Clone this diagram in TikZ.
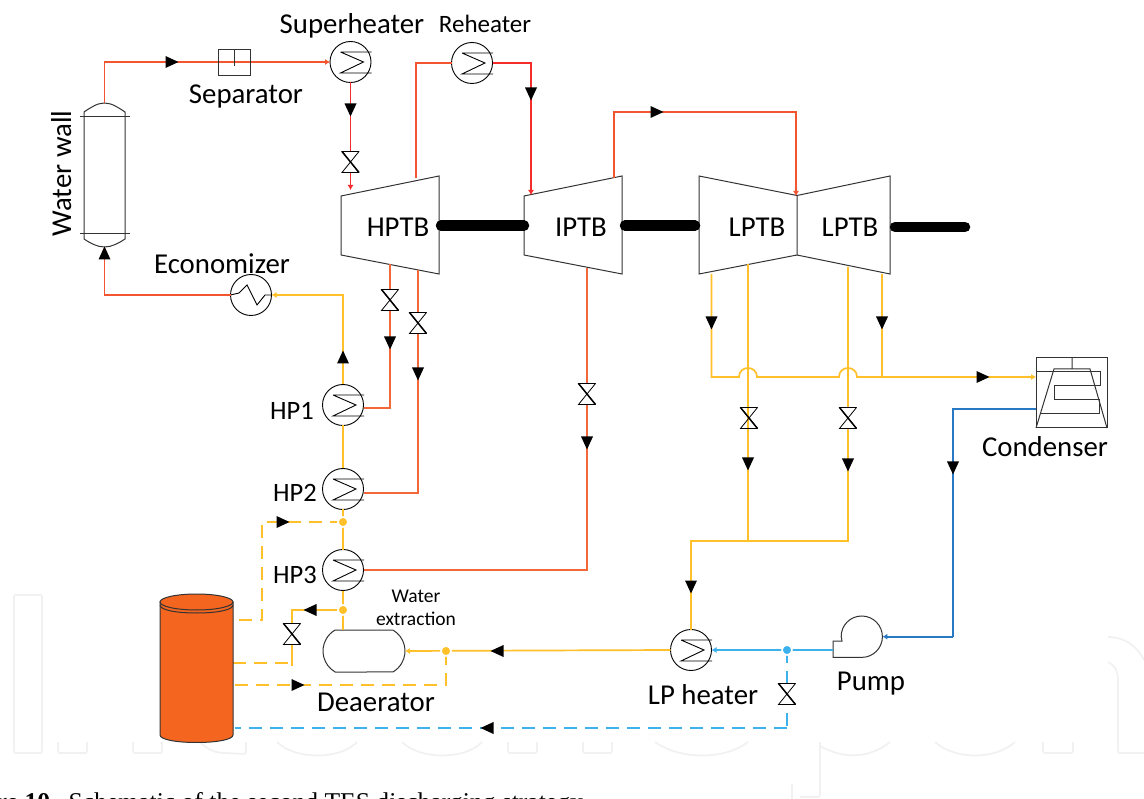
\documentclass[tikz,border=0pt]{standalone}
\usepackage{fontspec}
\setmainfont{Carlito}
\newfontfamily\capfont{Liberation Serif}
\usetikzlibrary{arrows.meta,shapes.geometric,shapes.misc}
\definecolor{steam}{HTML}{F2552F}
\definecolor{redpipe}{HTML}{F52C2C}
\definecolor{orangepipe}{HTML}{F2683A}
\definecolor{yellowpipe}{HTML}{FFC02A}
\definecolor{lightblue}{HTML}{3CB1EC}
\definecolor{darkblue}{HTML}{2878C4}
\definecolor{tankfill}{HTML}{F4661F}
\definecolor{wm}{HTML}{F1F1F1}
\definecolor{ink}{HTML}{333333}
\tikzset{
  pipe/.style={line width=1.7},
  tip/.style={-{Latex[length=5,width=6]}},
  dashpipe/.style={pipe,dash pattern=on 13 off 8},
  steampipe/.style={pipe,draw=steam},
  redline/.style={pipe,draw=redpipe},
  orangeline/.style={pipe,draw=orangepipe},
  yellowline/.style={pipe,draw=yellowpipe},
  lbline/.style={pipe,draw=lightblue},
  dbline/.style={pipe,draw=darkblue},
  outline/.style={draw=ink,line width=1},
  hxc/.style={circle,draw=black,line width=0.9,minimum size=41,inner sep=0,outer sep=0},
  valvebox/.style={inner sep=0,outer sep=0,minimum width=17,minimum height=21},
  dotnode/.style={circle,fill=#1,draw=white,line width=1.6,minimum size=10,inner sep=0},
  lab/.style={font=\fontsize{28.8}{32}\selectfont,inner sep=0,anchor=base,text=black},
  hplab/.style={font=\fontsize{26.5}{30}\selectfont,inner sep=0,anchor=base,text=black},
  rhlab/.style={font=\fontsize{25}{28}\selectfont,inner sep=0,anchor=base,text=black},
  smalllab/.style={font=\fontsize{19.5}{22}\selectfont,inner sep=0,anchor=base,text=black},
  wmline/.style={draw=wm,line width=1.7},
  shaft/.style={line width=10.5,line cap=round,draw=black}
}
\newcommand{\valvesym}[4][white]{%
  \node[valvebox] (#2) at (#3,#4) {};
  \fill[#1] (#2.north west) -- (#2.north east) -- (#2.south west) -- (#2.south east) -- cycle;
  \draw[black,line width=0.8] (#2.north east) -- (#2.south west) -- (#2.south east);
  \draw[black,line width=0.8] (#2.south east) -- (#2.north west) -- (#2.north east);
  \draw[black,line width=1.5] (#2.north west) -- (#2.south east);
}
\newcommand{\hxsym}[3]{%
  \node[hxc] (#1) at (#2,#3) {};
  \draw[black,line width=0.9] ([shift={(-10,-10)}]#1.center) -- ([shift={(21,-10)}]#1.center)
    ([shift={(-10,-10)}]#1.center) -- ([shift={(13,0)}]#1.center) -- ([shift={(-10,11)}]#1.center) -- ([shift={(21,11)}]#1.center);
}
\newcommand{\bigarrow}[3]{%
  \fill[black,shift={(#1,#2)},rotate=-#3] (6.5,0) -- (-6.5,6) -- (-6.5,-6) -- cycle;
}
\begin{document}
\begin{tikzpicture}[x=1pt,y=-1pt]
\clip (0,0) rectangle (1144,799);
\fill[white] (0,0) rectangle (1144,799);
%% watermark
\draw[wmline,rounded corners=2] (14,595) rectangle (42,753);
\draw[wmline,rounded corners=2] (58,742) -- (58,753) -- (87,753) -- (87,742);
\draw[wmline,rounded corners=2] (133,742) -- (133,753) -- (162,753) -- (162,742);
\draw[wmline] (200,742) .. controls (208,750) and (216,753) .. (225,753);
\draw[wmline,rounded corners=2] (225,753) -- (246,754) -- (246,742);
\draw[wmline] (277,742) .. controls (295,760) and (340,760) .. (357,742);
\draw[wmline] (402,742) .. controls (420,760) and (465,760) .. (482,742);
\draw[wmline,rounded corners=2] (508,742) -- (508,753) -- (537,753) -- (537,742);
\draw[wmline,rounded corners=2] (583,742) -- (583,753) -- (612,753) -- (612,742);
\draw[wmline] (655,742) .. controls (680,760) and (725,760) .. (748,742);
\draw[wmline,rounded corners=2] (792,799) -- (792,784);
\draw[wmline,rounded corners=2] (820,742) -- (820,797) -- (800,797);
\draw[wmline] (820,746) .. controls (845,760) and (870,758) .. (890,742);
\draw[wmline] (935,742) .. controls (955,760) and (995,760) .. (1015,742);
\draw[wmline,rounded corners=2] (1043,742) -- (1043,753) -- (1073,753) -- (1073,742);
\draw[wmline,rounded corners=2] (1108,662) .. controls (1114,665) and (1118,670) .. (1118,682) -- (1118,753) -- (1144,753);
\draw[wmline] (1108,637) .. controls (1125,637) and (1138,647) .. (1144,660);
%% caption, cut by the lower edge
\node[inner sep=0,anchor=base west,font=\capfont\fontsize{25.6}{28}\selectfont,text=black] (caption) at (-54,810)
  {\textbf{Figure 10.}\hspace{12pt}Schematic of the second TES discharging strategy.};
%% equipment
\coordinate (wwtop) at (104.5,103);
\coordinate (wwbot) at (104.5,247);
\node[inner sep=0,outer sep=0,minimum width=41,minimum height=127] (ww) at (104.5,175.5) {};
\draw[outline] (ww.north west) -- (ww.south west) .. controls (90,243) and (97,247) .. (wwbot) .. controls (112,247) and (119,243) .. (ww.south east) -- (ww.north east) .. controls (119,108) and (112,103) .. (wwtop) .. controls (97,103) and (90,108) .. (ww.north west);
\draw[outline] (80,117) -- (130,117) (80,234) -- (130,234);
\node[inner sep=0,outer sep=0,minimum width=32,minimum height=26] (sep) at (234,63) {};
\hxsym{sh}{350.5}{62}
\hxsym{rh}{472}{63}
\node[hxc] (eco) at (251,295) {};
\draw[black,line width=0.9] (eco.west) -- ([shift={(-12,-2)}]eco.center) -- ([shift={(-4,-10)}]eco.center) -- ([shift={(6,10)}]eco.center) -- ([shift={(14,0)}]eco.center) -- (eco.east);
\hxsym{hpa}{343}{405}
\hxsym{hpb}{343}{489}
\hxsym{hpc}{343}{570}
\hxsym{lph}{691}{650}
\node[draw=ink,line width=1,rounded rectangle,rounded rectangle arc length=120,inner sep=0,outer sep=0,minimum width=82,minimum height=42] (dea) at (364,651) {};
% pump
\coordinate (pumpin) at (882.4,636.7);
\coordinate (pumpout) at (833,650);
\draw[outline] (833,641) -- (842,641) -- (841.2,636.7) .. controls (841,625.27) and (850.27,616) .. (861.7,616) .. controls (873.13,616) and (882.4,625.27) .. (pumpin) .. controls (882.4,648.13) and (873.13,657.4) .. (861.7,657.4) -- (833,657.4) -- cycle;
% condenser
\node[draw=ink,line width=1,inner sep=0,outer sep=0,minimum width=71,minimum height=70] (cond) at (1071.5,393) {};
\draw[outline] (1072,358) -- (1072,369) (cond.south west) -- (1054,369) -- (1090,369) -- (cond.south east);
\draw[outline] (1036,372) -- (1100,372) -- (1100,386) -- (1054,386) -- (1054,400) -- (1099,400) -- (1099,414) -- (1041,414);
\coordinate (condin) at (1036,377);
\coordinate (condout) at (1036,409);
% turbines
\coordinate (hp1) at (341,196); \coordinate (hp2) at (439,176); \coordinate (hp3) at (439,274); \coordinate (hp4) at (341,255);
\coordinate (ip1) at (524,196); \coordinate (ip2) at (622,176); \coordinate (ip3) at (622,274); \coordinate (ip4) at (524,255);
\coordinate (lp1) at (699,176); \coordinate (lp2) at (797,195.5); \coordinate (lp3) at (797,255); \coordinate (lp4) at (699,274);
\coordinate (lq2) at (890,176); \coordinate (lq3) at (890,274);
\draw[outline] (hp1) -- (hp2) -- (hp3) -- (hp4) -- cycle;
\draw[outline] (ip1) -- (ip2) -- (ip3) -- (ip4) -- cycle;
\draw[outline] (lp1) -- (lp2) -- (lp3) -- (lp4) -- cycle;
\draw[outline] (lp2) -- (lq2) -- (lq3) -- (lp3);
\coordinate (s1a) at (441,225.7); \coordinate (s1b) at (524,225.7);
\coordinate (s2a) at (625,225.7); \coordinate (s2b) at (695,225.7);
\coordinate (s3a) at (895,227); \coordinate (s3b) at (965,227);
\draw[shaft] (s1a) -- (s1b);
\draw[shaft] (s2a) -- (s2b);
\draw[shaft] (s3a) -- (s3b);
%% junctions and free ends
\coordinate (hpout) at (416,178);
\coordinate (hpin) at (350.5,190);
\coordinate (ipin) at (531,195);
\coordinate (ipout) at (614,178);
\coordinate (lpin) at (796,196);
\coordinate (hpx1) at (390,264);
\coordinate (hpx2) at (418,270);
\coordinate (ipx) at (587,268);
\coordinate (la) at (711.5,274);
\coordinate (lb) at (748,264);
\coordinate (lc) at (848,267);
\coordinate (ld) at (882,274);
\coordinate (lnode) at (748,541);
\coordinate (dy1) at (343,522);
\coordinate (dy2) at (343,610);
\coordinate (dy3) at (446,651);
\coordinate (db) at (787,650);
\coordinate (t1) at (233,620);
\coordinate (t2) at (233,663);
\coordinate (t3) at (235,685);
\coordinate (t4) at (235,728);
\coordinate (bcorner) at (787,733);
%% pipes
\draw[steampipe,tip] (wwtop) |- (sh.west);
\draw[redline,tip] (sh.south) -- (hpin);
\draw[steampipe] (hpout) |- (rh.west);
\draw[redline,tip] (rh.east) -| (ipin);
\draw[steampipe,tip] (ipout) |- (614,112) -| (lpin);
\draw[steampipe,tip] (eco.west) -| (wwbot);
\draw[yellowline,tip] (hpa.north) |- (eco.east);
\draw[orangeline] (hpx1) |- (hpa.east |- 0,408);
\draw[orangeline] (hpx2) |- (hpb.east |- 0,493);
\draw[orangeline] (ipx) |- (hpc.east);
\draw[yellowline] (hpa.south) -- (hpb.north);
\draw[yellowline] (hpb.south) -- (hpc.north);
\draw[yellowline] (hpc.south) -- (hpc.south |- dea.north);
\draw[yellowline,dashpipe] (dy1) -| (262,620) -- (t1);
\draw[yellowline] (dy2) -- (292,610) -- (292,623);
\draw[yellowline,dash pattern=on 13 off 8] (t2) -- (292,663);
\draw[yellowline] (292,645) -- (292,666);
\draw[yellowline,dashpipe] (t3) -| (dy3);
\draw[yellowline,tip] (lph.west) -- (dea.east);
\draw[yellowline] (lph.north) |- (lnode);
\draw[yellowline] (lb) -- (lnode);
\draw[yellowline] (lc) |- (lnode);
\draw[yellowline,tip] (la) -- (711.5,377) -- (739,377) .. controls (739,365) and (757,365) .. (757,377) -- (839,377) .. controls (839,365) and (857,365) .. (857,377) -- (condin);
\draw[yellowline] (ld) -- (882,377);
\draw[lbline,tip] (pumpout) -- (lph.east |- pumpout);
\draw[lbline,dash pattern=on 13 off 8] (db) -- (bcorner);
\draw[lbline,dashpipe] (787,728) -- (t4);
\draw[dbline] (condout) -| (953,636.7);
\draw[dbline,tip] (953,636.7) -- (pumpin);
\draw[outline] (sep.north west) rectangle (sep.south east);
\draw[outline] (sep.north) -- (234,66);
%% valves
\valvesym{v1}{350.5}{162}
\valvesym{v2}{390}{300}
\valvesym{v3}{418}{323}
\valvesym{v4}{587}{394}
\valvesym[white,opacity=0]{v5}{749}{418}
\valvesym{v6}{848}{418}
\valvesym{v7}{292}{634}
\valvesym{v8}{787}{694}
%% in-line arrows
\bigarrow{172}{62}{0}
\bigarrow{350.5}{110}{90}
\bigarrow{104.5}{253}{-90}
\bigarrow{343}{357}{-90}
\bigarrow{390}{343}{90}
\bigarrow{418}{374}{90}
\bigarrow{531}{94}{90}
\bigarrow{657}{112}{0}
\bigarrow{587}{443}{90}
\bigarrow{711.5}{323}{90}
\bigarrow{882}{323}{90}
\bigarrow{748}{464}{90}
\bigarrow{848}{465}{90}
\bigarrow{983}{377}{0}
\bigarrow{953}{468}{90}
\bigarrow{691}{587}{90}
\bigarrow{497}{651}{180}
\bigarrow{283}{522}{0}
\bigarrow{310}{610}{180}
\bigarrow{298}{685}{0}
\bigarrow{487}{728}{180}
%% dots
\node[dotnode=yellowpipe] (dot1) at (dy1) {};
\node[dotnode=yellowpipe] (dot2) at (dy2) {};
\node[dotnode=yellowpipe] (dot3) at (dy3) {};
\node[dotnode=lightblue] (dot4) at (db) {};
%% tank
\coordinate (tl) at (160,602);
\coordinate (tr) at (233,602);
\filldraw[fill=tankfill,draw=ink,line width=1] (tl) -- (160,735) .. controls (160,739.5) and (176,742.5) .. (196.5,742.5) .. controls (217,742.5) and (233,739.5) .. (233,735) -- (tr) -- cycle;
\node[ellipse,draw=ink,fill=tankfill,line width=1,inner sep=0,minimum width=73,minimum height=16] (tanktop) at (196.5,602) {};
\draw[outline] (160,605) .. controls (160,610) and (176,613) .. (196.5,613) .. controls (217,613) and (233,610) .. (233,605);
%% labels
\node[lab] (l1) at (352,34) {Superheater};
\node[rhlab] (l2) at (485,33) {Reheater};
\node[lab] (l3) at (246,103.5) {Separator};
\node[lab] (l4) at (222,273.5) {Economizer};
\node[lab,rotate=90] (l5) at (71,173.5) {Water wall};
\node[lab] (l6) at (398,237) {HPTB};
\node[lab] (l7) at (581,237) {IPTB};
\node[lab] (l8) at (757,237) {LPTB};
\node[lab] (l9) at (850,237) {LPTB};
\node[hplab] (l10) at (292,420) {HP1};
\node[hplab] (l11) at (295,502) {HP2};
\node[hplab] (l12) at (295,583) {HP3};
\node[smalllab] (l13) at (416,602) {Water};
\node[smalllab] (l14) at (416,625) {extraction};
\node[lab] (l15) at (376,711) {Deaerator};
\node[lab] (l16) at (703,704) {LP heater};
\node[lab] (l17) at (871,690) {Pump};
\node[lab] (l18) at (1045,456.5) {Condenser};
\end{tikzpicture}
\end{document}
